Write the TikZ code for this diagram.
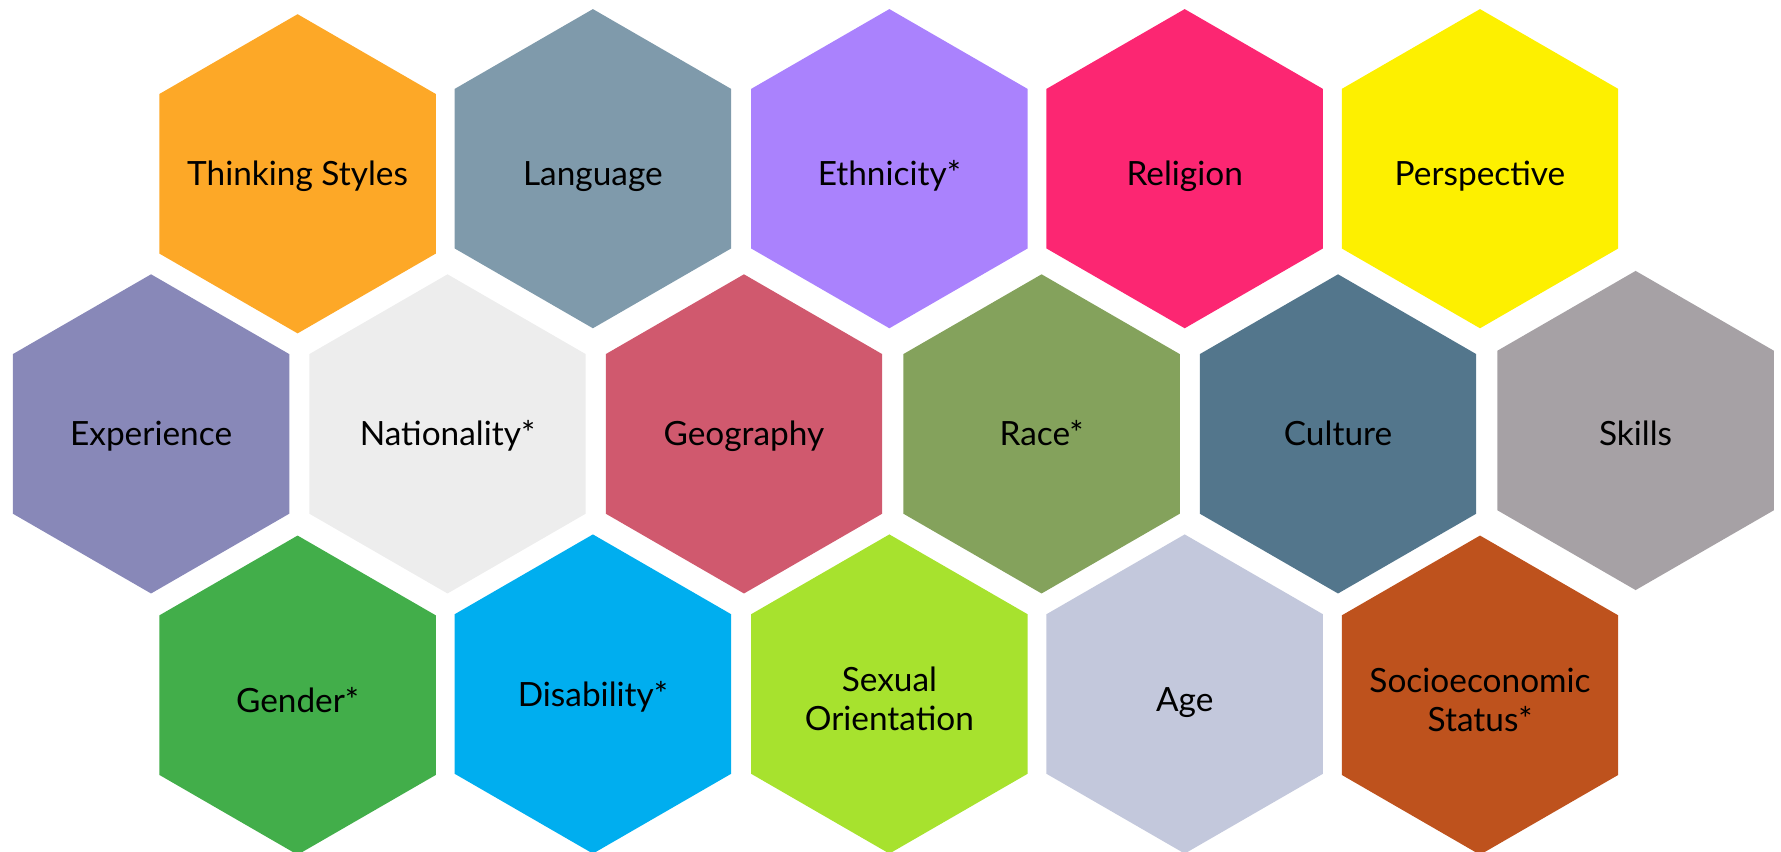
\documentclass[tikz,border=0pt]{standalone}
\usepackage{fontspec}
\setmainfont{Lato}
\usetikzlibrary{shapes.geometric}

\definecolor{corThinking}{RGB}{253,168,39}
\definecolor{corLanguage}{RGB}{127,154,171}
\definecolor{corEthnicity}{RGB}{170,130,253}
\definecolor{corReligion}{RGB}{252,38,114}
\definecolor{corPerspective}{RGB}{253,240,0}
\definecolor{corExperience}{RGB}{136,136,184}
\definecolor{corNationality}{RGB}{237,237,237}
\definecolor{corGeography}{RGB}{208,89,110}
\definecolor{corRace}{RGB}{132,162,92}
\definecolor{corCulture}{RGB}{83,118,140}
\definecolor{corSkills}{RGB}{166,161,165}
\definecolor{corGender}{RGB}{66,174,74}
\definecolor{corDisability}{RGB}{0,174,239}
\definecolor{corSexual}{RGB}{167,226,46}
\definecolor{corAge}{RGB}{195,200,220}
\definecolor{corSocio}{RGB}{190,82,29}

\tikzset{
  hexa/.style={regular polygon, regular polygon sides=6, regular polygon rotate=30,
    minimum size=140.5pt, inner sep=0pt, outer sep=0pt, draw=none},
  rotulo/.style={align=center, inner sep=0pt, text height=10.6pt, text depth=0pt,
    font=\fontsize{14.7}{17}\selectfont},
  rotulotopo/.style={rotulo, yshift=-2.2pt},
  rotulobase/.style={rotulo, yshift=-2.2pt},
  rotuloduplo/.style={rotulo, yshift=-10.7pt}
}

\begin{document}
\begin{tikzpicture}[x=0.5pt,y=-0.5pt]
\useasboundingbox (0,0) rectangle (1568,750);

% Linha 1
\node[hexa, fill=corThinking, label={[rotulo]center:Thinking Styles}] (thinking) at (262,153) {};
\node[hexa, fill=corLanguage, label={[rotulotopo]center:Language}] (language) at (522,148.5) {};
\node[hexa, fill=corEthnicity, label={[rotulotopo]center:Ethnicity*}] (ethnicity) at (783,148.5) {};
\node[hexa, fill=corReligion, label={[rotulotopo]center:Religion}] (religion) at (1043,148.5) {};
\node[hexa, fill=corPerspective, label={[rotulotopo]center:Perspective}] (perspective) at (1303,148.5) {};

% Linha 2
\node[hexa, fill=corExperience, label={[rotulo]center:Experience}] (experience) at (133,382) {};
\node[hexa, fill=corNationality, label={[rotulo]center:Nationality*}] (nationality) at (394,382) {};
\node[hexa, fill=corGeography, label={[rotulo]center:Geography}] (geography) at (655,382) {};
\node[hexa, fill=corRace, label={[rotulo]center:Race*}] (race) at (917,382) {};
\node[hexa, fill=corCulture, label={[rotulo]center:Culture}] (culture) at (1178,382) {};
\node[hexa, fill=corSkills, label={[rotulo, yshift=-1.5pt]center:Skills}] (skills) at (1440,379) {};

% Linha 3
\node[hexa, fill=corGender, label={[rotulobase]center:Gender*}] (gender) at (262,612) {};
\node[hexa, fill=corDisability, label={[rotulo]center:Disability*}] (disability) at (522,611) {};
\node[hexa, fill=corSexual, label={[rotuloduplo]center:{Sexual\\Orientation}}] (sexual) at (783,611) {};
\node[hexa, fill=corAge, label={[rotulobase]center:Age}] (age) at (1043,611) {};
\node[hexa, fill=corSocio, label={[rotuloduplo]center:{Socioeconomic\\Status*}}] (socio) at (1303,612) {};

\end{tikzpicture}
\end{document}
